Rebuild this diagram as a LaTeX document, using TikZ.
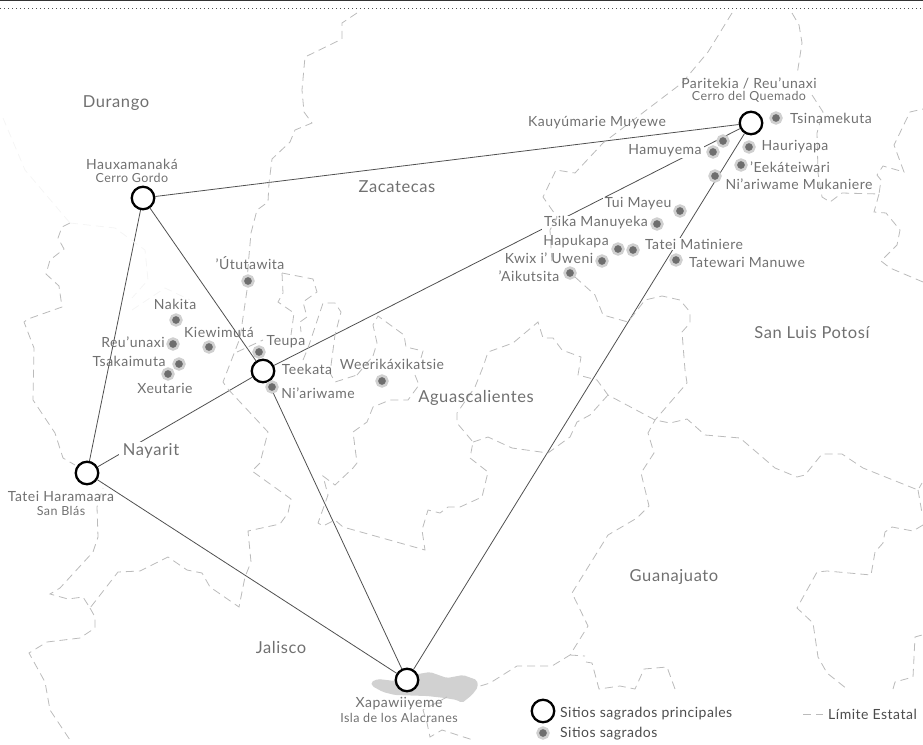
\documentclass[tikz,border=0pt]{standalone}
\usepackage{fontspec}
\setmainfont[LetterSpace=3.6]{Lato}
\pgfdeclarelayer{isle}\pgfdeclarelayer{links}\pgfdeclarelayer{masks}\pgfdeclarelayer{borders}
\pgfsetlayers{isle,links,masks,borders,main}
\definecolor{txt}{HTML}{707070}
\definecolor{dotc}{HTML}{6E6E6E}
\definecolor{halo}{HTML}{D0D0D0}
\definecolor{bord}{HTML}{BBBBBB}
\definecolor{linkc}{HTML}{505050}
\tikzset{
  mainsite/.style={circle,draw=black,line width=2.3pt,fill=white,minimum size=22.5pt,inner sep=0pt},
  site/.style={circle,draw=halo,line width=2.6pt,fill=dotc,minimum size=10.8pt,inner sep=0pt},
  lbl/.style={text=txt,font=\fontsize{14}{14}\selectfont,inner sep=0pt},
  masklbl/.style={lbl,fill=white,inner ysep=1pt,inner xsep=2pt},
  sub/.style={text=txt,font=\fontsize{12.5}{12.5}\selectfont,inner sep=0pt},
  state/.style={text=txt,font=\fontsize{16.5}{16.5}\selectfont,inner sep=0pt},
  leg/.style={text=black!70,font=\fontsize{14}{14}\selectfont,inner sep=0pt},
  link/.style={draw=linkc,line width=0.8pt},
  limit/.style={draw=bord,line width=0.8pt,dash pattern=on 8pt off 5pt},
  faint/.style={draw=black!4,line width=0.8pt,dash pattern=on 8pt off 5pt},
}
\begin{document}
\begin{tikzpicture}[x=1pt,y=-1pt]
\useasboundingbox (0,0) rectangle (923,744);
\draw[black!80,line width=1.5pt] (0,0.5) -- (923,0.5);
\draw[black!70,line width=0.8pt,dash pattern=on 0.8pt off 3.2pt] (0,8) -- (923,8);

% principal sites
\node[mainsite] (hax) at (143,198) {};
\node[mainsite] (tee) at (263,371) {};
\node[mainsite] (tat) at (87,473) {};
\node[mainsite] (xap) at (407,680) {};
\node[mainsite] (par) at (751,123) {};
\node[mainsite] (legmain) at (543,711) {};

% island
\begin{pgfonlayer}{isle}
\fill[black!18,rounded corners=2pt] (371,682) -- (378,679) -- (395,681) -- (412,675) -- (430,672) -- (447,678) -- (463,675) -- (477,680) -- (478,687) -- (472,695) -- (462,703) -- (457,700) -- (445,698) -- (427,696) -- (395,695) -- (383,692) -- (372,686) -- cycle;
\end{pgfonlayer}

% connectors
\begin{pgfonlayer}{links}
\draw[link] (hax) -- (par);
\draw[link] (hax) -- (tee);
\draw[link] (hax) -- (tat);
\draw[link] (tat) -- (tee);
\draw[link] (tee) -- (par);
\draw[link] (tat) -- (xap);
\draw[link] (tee) -- (xap);
\draw[link] (xap) -- (par);
\end{pgfonlayer}

% labels that interrupt the connectors
\begin{pgfonlayer}{masks}
\node[state,fill=white,inner xsep=4pt,inner ysep=2pt] (lnay) at (151,451) {Nayarit};
\node[masklbl] (lham) at (665,151) {Hamuyema};
\node[masklbl] (ltui) at (638,204) {Tui Mayeu};
\node[masklbl] (ltsi) at (596,223) {Tsika Manuyeka};
\node[masklbl] (lmat) at (694,244) {Tatei Matiniere};
\end{pgfonlayer}

% state limits
\begin{pgfonlayer}{borders}
\draw[limit] (357,13) -- (342,23) -- (342,39) -- (305,57) -- (302,90) -- (304,112) -- (312,123) -- (295,130) -- (290,142) -- (272,159) -- (269,183) -- (268,202) -- (257,210) -- (251,233) -- (248,267) -- (247,290) -- (240,338) -- (223,382) -- (227,388) -- (268,432) -- (260,463) -- (252,471) -- (291,499) -- (288,513) -- (280,524) -- (248,531) -- (251,562) -- (245,577) -- (239,607) -- (210,587) -- (202,573) -- (187,570) -- (168,557) -- (140,571) -- (118,572) -- (90,608) -- (83,597) -- (68,599) -- (50,594) -- (60,588) -- (93,552) -- (98,537) -- (97,507) -- (103,488);
\draw[limit] (90,608) -- (95,617) -- (95,628) -- (80,638) -- (47,642) -- (29,653) -- (45,682) -- (50,710) -- (72,743);
\draw[limit] (70,223) -- (62,227) -- (58,238) -- (64,249) -- (50,260) -- (46,274) -- (59,286) -- (62,307) -- (28,319) -- (24,322) -- (34,348) -- (33,400) -- (55,433) -- (63,458) -- (75,465);
\draw[faint] (70,223) -- (115,228) -- (145,250) -- (148,280) -- (132,298);
\draw[faint] (3,118) -- (25,170) -- (70,223);
\draw[faint] (132,310) -- (165,288) -- (190,300);
\draw[limit] (237,352) -- (263,340);
\draw[limit] (282,273) -- (313,279) -- (317,292) -- (303,302) -- (307,317) -- (300,322) -- (301,332);
\draw[limit] (282,273) -- (283,293) -- (278,302) -- (294,313) -- (291,335);
\draw[limit] (303,360) -- (308,348) -- (323,303) -- (335,303) -- (341,312) -- (335,335) -- (330,373) -- (335,382) -- (357,375);
\draw[limit] (357,375) -- (373,356);
\draw[limit] (373,356) -- (377,343) -- (373,325) -- (378,316) -- (404,335) -- (406,347) -- (423,351) -- (421,358);
\draw[limit] (415,375) -- (419,385) -- (408,400) -- (390,400) -- (373,407) -- (367,422) -- (353,432) -- (357,463) -- (353,468) -- (335,485) -- (323,476) -- (328,495) -- (318,523) -- (323,526) -- (335,520) -- (343,527) -- (425,550) -- (422,530) -- (428,510) -- (440,513) -- (448,507) -- (460,507) -- (482,497) -- (488,472) -- (470,458) -- (473,442) -- (457,423) -- (457,413) -- (475,387) -- (483,367) -- (488,352) -- (513,343) -- (538,322) -- (543,338) -- (553,338) -- (562,350) -- (581,357) -- (578,375) -- (597,380) -- (608,395) -- (655,420) -- (670,423) -- (687,419) -- (705,435) -- (740,438) -- (775,468) -- (797,477) -- (805,475) -- (822,454) -- (842,454) -- (863,468) -- (918,490) -- (922,483);
\draw[limit] (473,442) -- (488,437) -- (512,448) -- (548,453) -- (570,437) -- (577,422) -- (590,415) -- (608,395);
\draw[limit] (918,490) -- (922,513);
\draw[limit] (923,525) -- (913,531) -- (892,527) -- (885,532) -- (883,543) -- (875,552) -- (871,575) -- (827,571) -- (817,572) -- (797,608) -- (813,623) -- (818,657) -- (827,673) -- (847,689);
\draw[limit] (893,689) -- (895,682) -- (913,677) -- (915,637) -- (922,635);
\draw[limit] (575,277) -- (595,295) -- (603,315) -- (628,322) -- (645,300) -- (662,296) -- (680,300) -- (690,312) -- (690,323) -- (682,332) -- (685,370) -- (687,383) -- (655,420) -- (648,433) -- (654,453) -- (641,473) -- (649,506) -- (637,518) -- (608,535) -- (572,593) -- (588,626) -- (570,655) -- (552,666) -- (517,666) -- (490,683) -- (477,687);
\draw[limit] (570,655) -- (585,656);
\draw[limit] (586,662) -- (592,663) -- (599,689) -- (620,686) -- (635,689) -- (644,669) -- (667,667) -- (675,689);
\draw[limit] (447,697) -- (423,710) -- (427,723) -- (430,737) -- (442,730) -- (473,740);
\draw[limit] (732,13) -- (708,52) -- (682,83) -- (603,143) -- (575,173) -- (556,170) -- (543,197) -- (557,217) -- (550,230) -- (552,263);
\draw[limit] (792,13) -- (799,25) -- (802,43) -- (797,75);
\draw[limit] (812,95) -- (823,112) -- (817,133) -- (818,173) -- (822,197) -- (830,202) -- (842,193) -- (879,194) -- (881,180) -- (877,175) -- (883,166) -- (904,172) -- (894,145) -- (910,112) -- (923,109);
\draw[limit] (879,194) -- (874,212) -- (886,213) -- (900,230) -- (897,245) -- (881,261) -- (890,268) -- (923,282);
\draw[limit] (803,714) -- (823,714);
\end{pgfonlayer}

% sacred sites
\node[site] (s1) at (248,281) {};
\node[site] (s2) at (176,320) {};
\node[site] (s3) at (209,347) {};
\node[site] (s4) at (173,344) {};
\node[site] (s5) at (179,364) {};
\node[site] (s6) at (168,374) {};
\node[site] (s7) at (259,352) {};
\node[site] (s8) at (272,387) {};
\node[site] (s9) at (382,381) {};
\node[site] (s10) at (776,118) {};
\node[site] (s11) at (749,147) {};
\node[site] (s12) at (741,165) {};
\node[site] (s13) at (715,176) {};
\node[site] (s14) at (723,141) {};
\node[site] (s15) at (713,152) {};
\node[site] (s16) at (680,211) {};
\node[site] (s17) at (657,224) {};
\node[site] (s18) at (618,249) {};
\node[site] (s19) at (633,250) {};
\node[site] (s20) at (602,261) {};
\node[site] (s21) at (676,260) {};
\node[site] (s22) at (570,273) {};
\node[site] (legsite) at (543,733) {};

% states
\node[state] (t1) at (116,103) {Durango};
\node[state] (t2) at (397,187) {Zacatecas};
\node[state] (t3) at (812,333) {San Luis Potosí};
\node[state] (t4) at (476,398) {Aguascalientes};
\node[state] (t5) at (281,647) {Jalisco};
\node[state] (t6) at (674,577) {Guanajuato};

% site labels
\node[lbl] (a1) at (132,164) {Hauxamanaká};
\node[sub] (a2) at (132,178) {Cerro Gordo};
\node[lbl] (a3) at (749,83) {Paritekia / Reu’unaxi};
\node[sub] (a4) at (749,97) {Cerro del Quemado};
\node[lbl] (a5) at (61,496) {Tatei Haramaara};
\node[sub] (a6) at (61,511) {San Blás};
\node[lbl] (a7) at (399,704) {Xapawiiyeme};
\node[sub] (a8) at (399,718) {Isla de los Alacranes};
\node[lbl] (b1) at (250,263) {’Útutawita};
\node[lbl] (b2) at (175,304) {Nakita};
\node[lbl] (b3) at (219,332) {Kiewimutá};
\node[lbl] (b4) at (133,342) {Reu’unaxi};
\node[lbl] (b5) at (129,361) {Tsakaimuta};
\node[lbl] (b6) at (165,388) {Xeutarie};
\node[lbl] (b7) at (286,342) {Teupa};
\node[lbl] (b8) at (307,369) {Teekata};
\node[lbl] (b9) at (318,393) {Ni’ariwame};
\node[lbl] (b10) at (392,364) {Weerikáxikatsie};
\node[lbl] (c1) at (597,123) {Kauyúmarie Muyewe};
\node[lbl] (c2) at (831,118) {Tsinamekuta};
\node[lbl] (c3) at (795,147) {Hauriyapa};
\node[lbl] (c4) at (790,167) {’Eekáteiwari};
\node[lbl] (c5) at (799,184) {Ni’ariwame Mukaniere};
\node[lbl] (c6) at (576,242) {Hapukapa};
\node[lbl] (c7) at (549,258) {Kwix i’ Uweni};
\node[lbl] (c8) at (747,262) {Tatewari Manuwe};
\node[lbl] (c9) at (529,276) {’Aikutsita};

% legend
\node[leg,anchor=west] (l1) at (560,714) {Sitios sagrados principales};
\node[leg,anchor=west] (l2) at (560,734) {Sitios sagrados};
\node[leg,anchor=west] (l3) at (828,714) {Límite Estatal};
\end{tikzpicture}
\end{document}
